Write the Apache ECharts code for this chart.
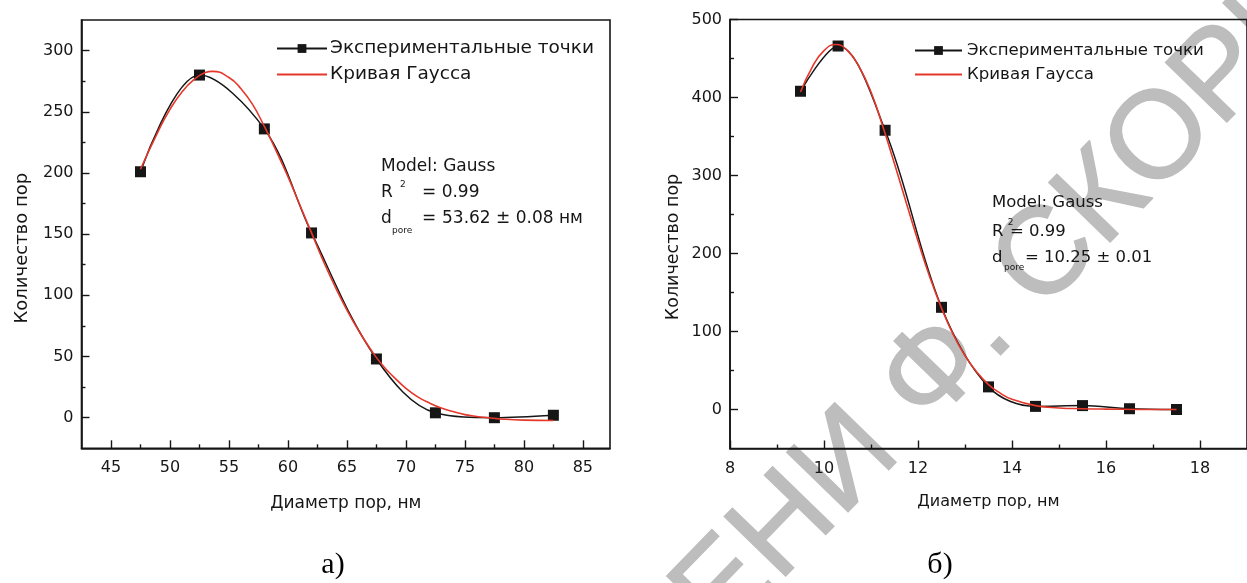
<!DOCTYPE html>
<html><head><meta charset="utf-8">
<script src="https://cdn.jsdelivr.net/npm/echarts@6/dist/echarts.min.js"></script>
<style>html,body{margin:0;padding:0;background:#fff}#c{width:1247px;height:583px}</style>
</head><body><div id="c"></div>
<script>
const seriesNames = ['Экспериментальные точки', 'Кривая Гаусса'];
const xAxisName = 'Диаметр пор, нм';
const yAxisName = 'Количество пор';

// ---- chart а) ----
const aPointsX = [47.5, 52.5, 58, 62, 67.5, 72.5, 77.5, 82.5];
const aPointsY = [201, 280, 236, 151, 48, 4, 0, 2];
const aGaussX = [47.5, 49, 50, 51, 52, 53, 53.6, 55, 56, 57, 58, 59, 60, 61, 62, 63, 64, 65, 66, 67, 68, 69, 70, 71, 72, 73, 74, 75, 76, 77, 78, 80, 82.5];
const aGaussY = [203, 234, 252, 266, 276, 282, 283, 278, 269, 256, 238, 218, 197, 174, 151, 128, 107, 88, 71, 56, 43, 33, 24, 17, 12, 8, 5, 2.5, 1, 0, -1, -2, -2.3];
const aXTicks = [45, 50, 55, 60, 65, 70, 75, 80, 85];
const aXMinor = [47.5, 52.5, 57.5, 62.5, 67.5, 72.5, 77.5, 82.5];
const aYTicks = [0, 50, 100, 150, 200, 250, 300];
const aYMinor = [25, 75, 125, 175, 225, 275];

// ---- chart б) ----
const bPointsX = [9.5, 10.3, 11.3, 12.5, 13.5, 14.5, 15.5, 16.5, 17.5];
const bPointsY = [408, 466, 358, 131, 29, 4, 5, 1, 0];
const bGaussX = [9.5, 9.75, 10, 10.25, 10.5, 10.75, 11, 11.25, 11.5, 11.75, 12, 12.25, 12.5, 12.75, 13, 13.25, 13.5, 13.75, 14, 14.5, 15, 15.5, 16, 17, 17.5];
const bGaussY = [407, 439, 460, 468, 460, 439, 407, 363, 315, 265, 216, 170, 130, 96, 69, 48, 32, 21, 13, 5, 2, 1, 0.5, 0, 0];
const bXTicks = [8, 10, 12, 14, 16, 18];
const bXMinor = [9, 11, 13, 15, 17];
const bYTicks = [0, 100, 200, 300, 400, 500];
const bYMinor = [50, 150, 250, 350, 450];

const FONT = 'DejaVu Sans';
const INK = '#161616';
const RED = '#e5382a';
const zip = (xs, ys) => xs.map((x, i) => [x, ys[i]]);

function xAxes(grid, min, max, ticks, minor, nameSize, nameGap) {
  return [
    { type: 'value', gridIndex: grid, min, max, position: 'bottom',
      axisLine: { show: true, onZero: false, lineStyle: { color: INK, width: 1.6 } },
      axisTick: { show: true, inside: true, length: 8, customValues: ticks, lineStyle: { color: INK, width: 1.4 } },
      axisLabel: { show: true, customValues: ticks, margin: 12, color: INK, fontFamily: FONT, fontSize: 16 },
      splitLine: { show: false },
      name: xAxisName, nameLocation: 'middle', nameGap: nameGap,
      nameTextStyle: { color: INK, fontFamily: FONT, fontSize: nameSize } },
    { type: 'value', gridIndex: grid, min, max, position: 'bottom', offset: 0,
      axisLine: { show: false, onZero: false },
      axisTick: { show: true, inside: true, length: 4, customValues: minor, lineStyle: { color: INK, width: 1.4 } },
      axisLabel: { show: false }, splitLine: { show: false } }
  ];
}
function yAxes(grid, min, max, ticks, minor, nameSize, nameGap, shift) {
  return [
    { type: 'value', gridIndex: grid, min, max, position: 'left',
      axisLine: { show: true, onZero: false, lineStyle: { color: INK, width: 1.6 } },
      axisTick: { show: true, inside: true, length: 8, customValues: ticks, lineStyle: { color: INK, width: 1.4 } },
      axisLabel: { show: true, customValues: ticks, margin: 8, color: INK, fontFamily: FONT, fontSize: 16 },
      splitLine: { show: false },
      name: yAxisName, nameLocation: 'middle', nameGap: nameGap,
      nameTextStyle: { color: INK, fontFamily: FONT, fontSize: nameSize, padding: [0, shift, 0, 0] } },
    { type: 'value', gridIndex: grid, min, max, position: 'left', offset: 0,
      axisLine: { show: false, onZero: false },
      axisTick: { show: true, inside: true, length: 4, customValues: minor, lineStyle: { color: INK, width: 1.4 } },
      axisLabel: { show: false }, splitLine: { show: false } }
  ];
}
function pair(xi, yi, pts, gauss, size) {
  return [
    { name: seriesNames[0], type: 'line', xAxisIndex: xi, yAxisIndex: yi, data: pts,
      smooth: 0.35, symbol: 'rect', symbolSize: size, z: 2,
      lineStyle: { color: INK, width: 1.5 }, itemStyle: { color: INK } },
    { name: seriesNames[1], type: 'line', xAxisIndex: xi, yAxisIndex: yi, data: gauss,
      smooth: true, symbol: 'none', z: 3,
      lineStyle: { color: RED, width: 1.6 }, itemStyle: { color: RED } }
  ];
}
function txt(x, y, s, size, extra) {
  return Object.assign({ type: 'text', x, y, z: 50,
    style: { text: s, fill: INK, fontFamily: FONT, fontSize: size, align: 'left', verticalAlign: 'middle' } }, extra || {});
}
const legendData = [
  { name: seriesNames[0] },
  { name: seriesNames[1], itemStyle: { opacity: 0 } }
];

const chart = echarts.init(document.getElementById('c'), null, { renderer: 'canvas' });
chart.setOption({
  animation: false,
  backgroundColor: '#ffffff',
  grid: [
    { left: 81.5, top: 20, width: 528.5, height: 428.3, show: true, borderColor: INK, borderWidth: 1.6, containLabel: false },
    { left: 730, top: 19.5, width: 528, height: 429, show: true, borderColor: INK, borderWidth: 1.6, containLabel: false }
  ],
  xAxis: [
    ...xAxes(0, 42.5, 87.3, aXTicks, aXMinor, 17, 47),
    ...xAxes(1, 8, 19, bXTicks, bXMinor, 16, 45)
  ],
  yAxis: [
    ...yAxes(0, -25, 325, aYTicks, aYMinor, 18, 50, 28),
    ...yAxes(1, -50, 500, bYTicks, bYMinor, 17.5, 48, 26)
  ],
  legend: [
    { data: legendData, orient: 'vertical', left: 271, top: 34, itemWidth: 50, itemHeight: 11, itemGap: 7,
      textStyle: { color: INK, fontFamily: FONT, fontSize: 18.5, padding: [0, 0, 0, -2] } },
    { data: legendData, orient: 'vertical', left: 909, top: 37, itemWidth: 47, itemHeight: 11, itemGap: 7,
      textStyle: { color: INK, fontFamily: FONT, fontSize: 16.6 } }
  ],
  series: [
    ...pair(0, 0, zip(aPointsX, aPointsY), zip(aGaussX, aGaussY), 11),
    ...pair(2, 2, zip(bPointsX, bPointsY), zip(bGaussX, bGaussY), 11)
  ],
  graphic: [
    { type: 'text', x: 1008, y: 298, rotation: 0.8, z: -10, silent: true,
      style: { text: 'ИМЕНИ Ф. СКОРИНЫ', fill: '#bdbdbd', stroke: '#bdbdbd', lineWidth: 1.5, fontFamily: 'Liberation Sans', fontWeight: 'normal', fontSize: 124, align: 'center', verticalAlign: 'middle' } },

    txt(381, 166.7, 'Model: Gauss', 17),
    txt(381, 192.7, 'R', 17),
    txt(400, 185, '2', 9),
    txt(422, 192.7, '= 0.99', 17),
    txt(381, 219, 'd', 17),
    txt(392, 230.7, 'pore', 9),
    txt(422, 219, '=', 17),
    txt(442, 219, '53.62 ± 0.08 нм', 17),

    txt(992, 202.3, 'Model: Gauss', 16.5),
    txt(992, 231.7, 'R', 16.5),
    txt(1007.7, 222.7, '2', 9),
    txt(1010, 231.7, '= 0.99', 16.5),
    txt(992, 257.3, 'd', 16.5),
    txt(1004, 267.3, 'pore', 9),
    txt(1025, 257.3, '= 10.25 ± 0.01', 16.5),

    { type: 'text', x: 333, y: 565, z: 50, style: { text: 'а)', fill: '#000', fontFamily: 'Liberation Serif', fontSize: 30, align: 'center', verticalAlign: 'middle' } },
    { type: 'text', x: 940, y: 565, z: 50, style: { text: 'б)', fill: '#000', fontFamily: 'Liberation Serif', fontSize: 30, align: 'center', verticalAlign: 'middle' } }
  ]
});
</script></body></html>
